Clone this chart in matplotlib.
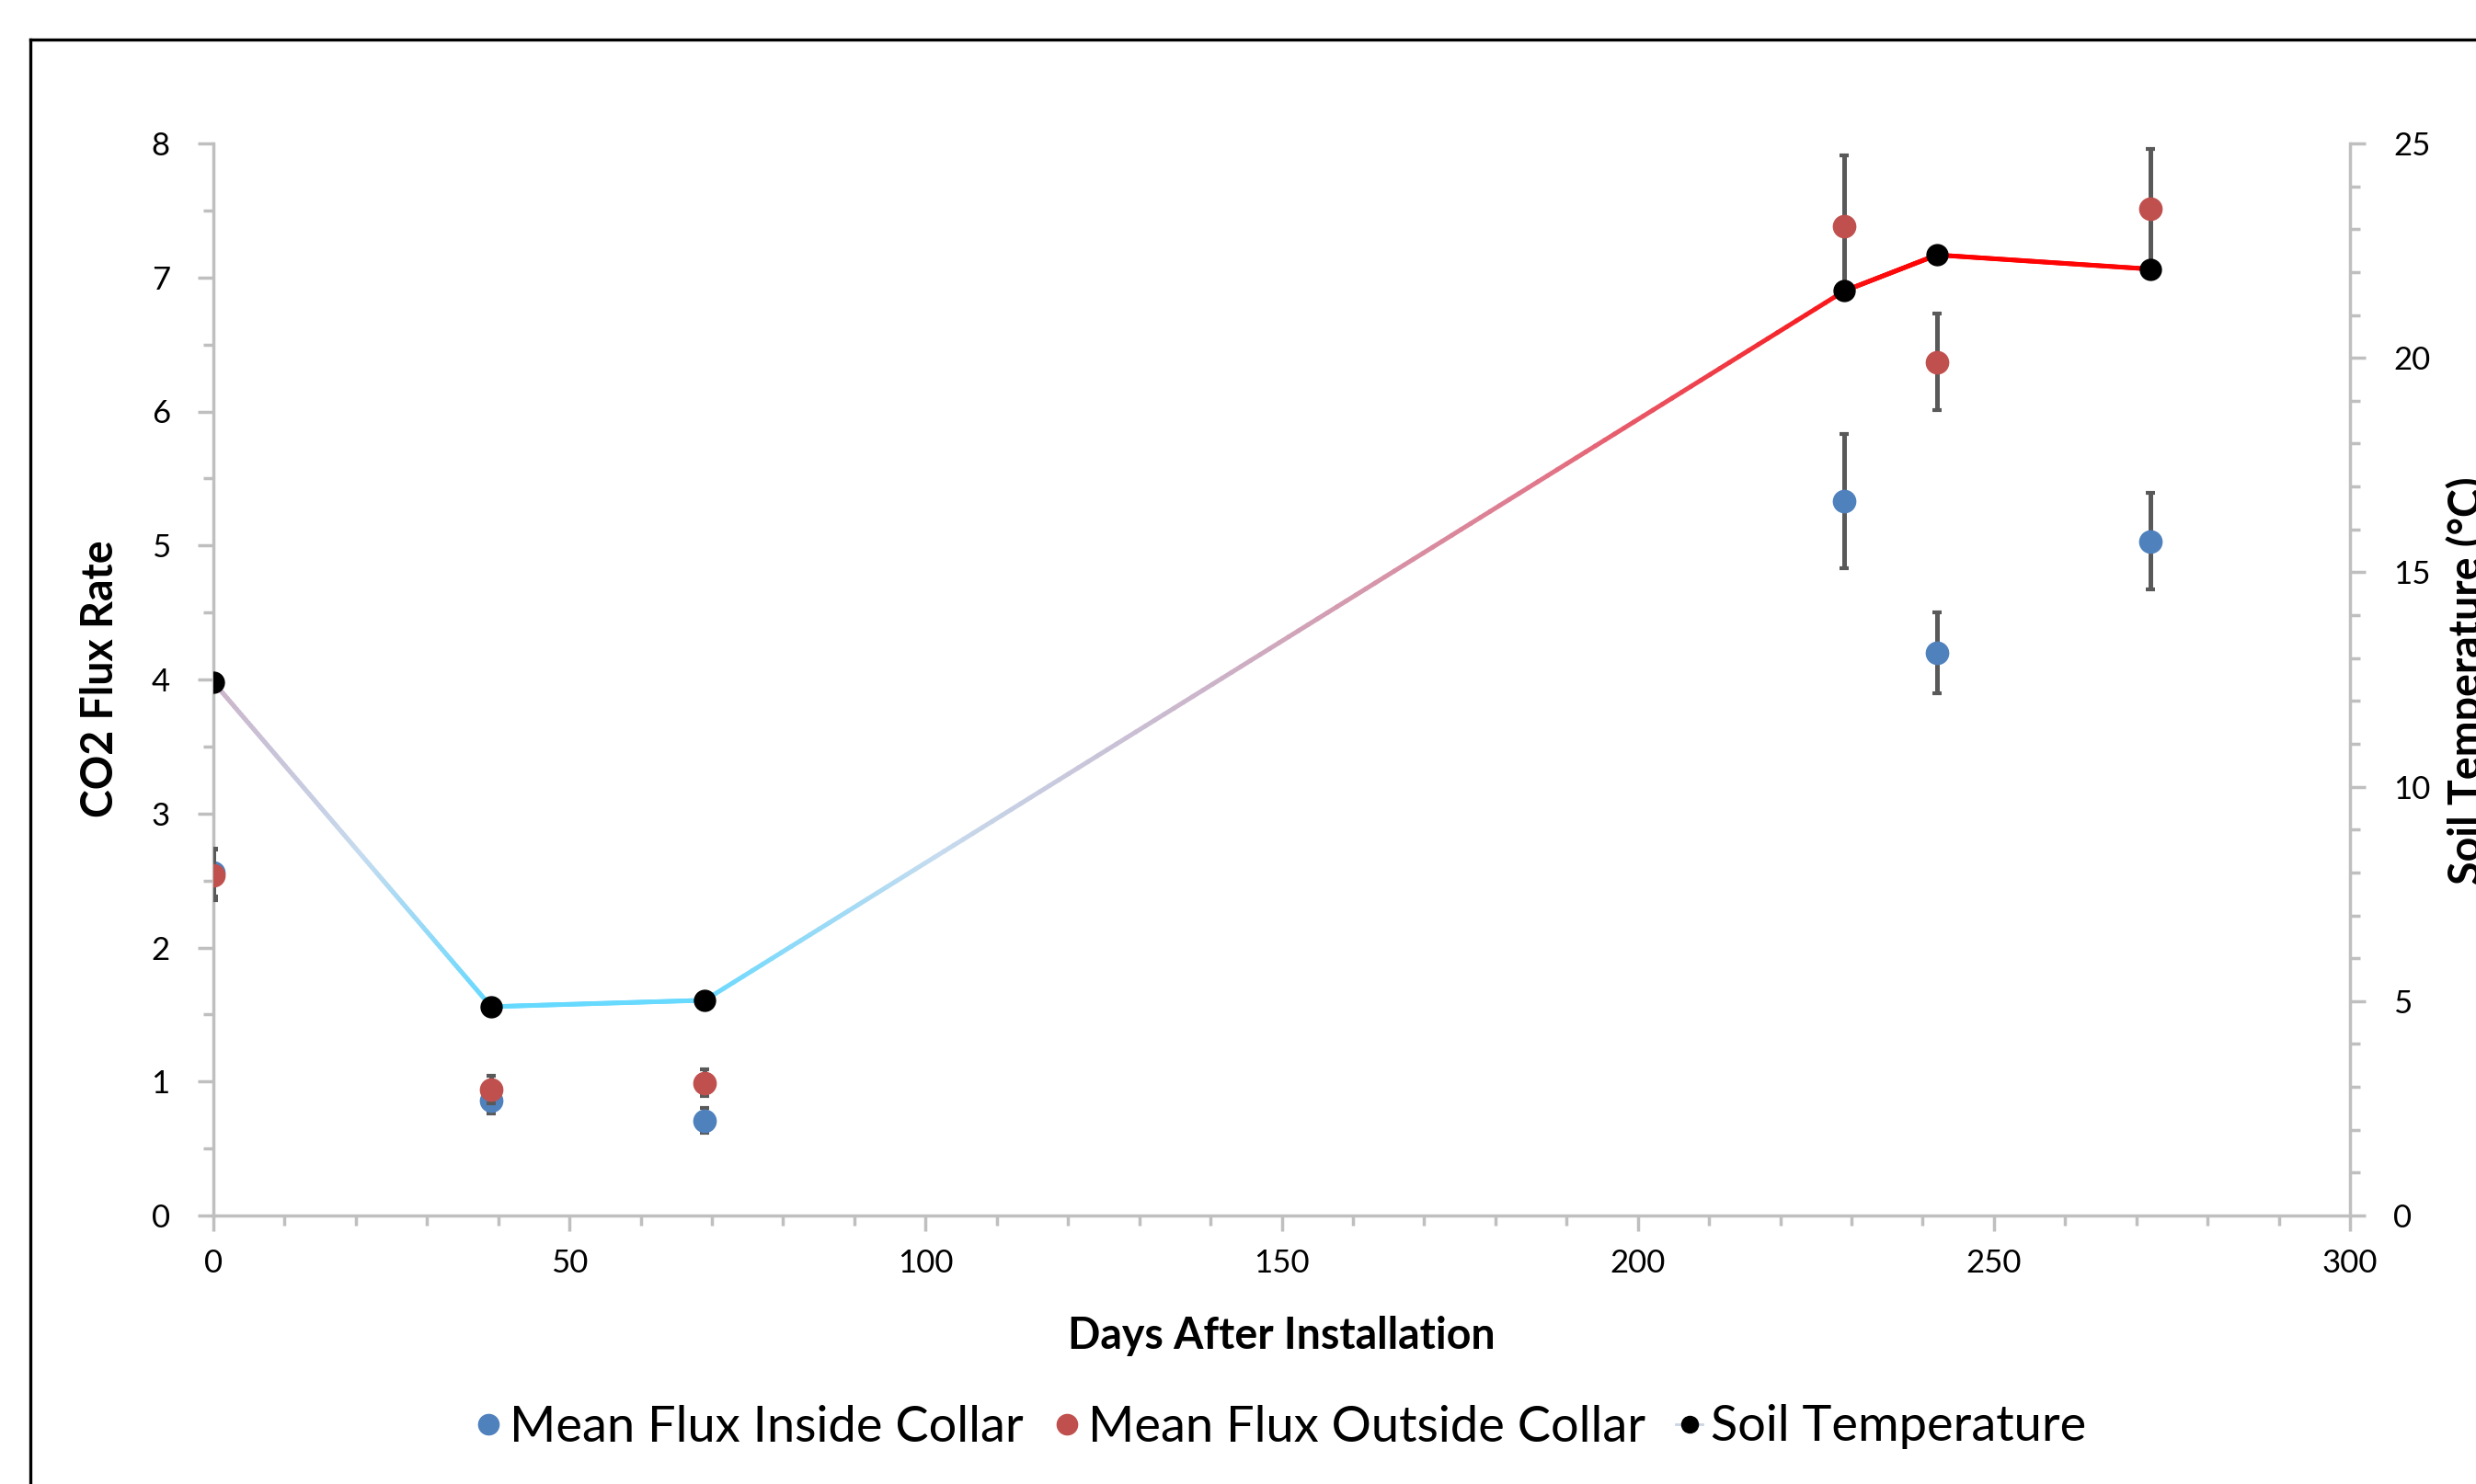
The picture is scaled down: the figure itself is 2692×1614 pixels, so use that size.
import numpy as np
import matplotlib
matplotlib.use("Agg")
import matplotlib.pyplot as plt
from matplotlib.collections import LineCollection
from matplotlib.colors import LinearSegmentedColormap
from matplotlib.lines import Line2D
from matplotlib.ticker import MultipleLocator

plt.rcParams['font.family'] = ['Lato', 'DejaVu Sans']

# ---- data ----
days = [0, 39, 69, 229, 242, 272]
flux_inside = [2.56, 0.86, 0.71, 5.33, 4.20, 5.03]
flux_inside_err = [0.18, 0.10, 0.09, 0.50, 0.30, 0.36]
flux_outside = [2.54, 0.94, 0.99, 7.38, 6.37, 7.51]
flux_outside_err = [0.19, 0.10, 0.10, 0.53, 0.36, 0.45]
soil_temp = [12.44, 4.87, 5.02, 21.56, 22.40, 22.07]

x_ticks = [0, 50, 100, 150, 200, 250, 300]
y_left_ticks = [0, 1, 2, 3, 4, 5, 6, 7, 8]
y_right_ticks = [0, 5, 10, 15, 20, 25]

W, H = 2692, 1614
fig = plt.figure(figsize=(W / 100, H / 100), dpi=100)
ax = fig.add_axes([232 / W, 1 - 1322 / H, (2555 - 232) / W, (1322 - 156) / H])
ax2 = ax.twinx()

axis_grey = '#bfbfbf'
blue = '#4f81bd'
red = '#c0504d'
err_grey = '#595959'

# error bars + markers
ax.errorbar(days, flux_inside, yerr=flux_inside_err, fmt='o', color=blue,
            markersize=17.5, ecolor=err_grey, elinewidth=3.6, capsize=3.6,
            capthick=3, zorder=3)
ax.errorbar(days, flux_outside, yerr=flux_outside_err, fmt='o', color=red,
            markersize=17.5, ecolor=err_grey, elinewidth=3.6, capsize=3.6,
            capthick=3, zorder=4)

ax.set_xlim(0, 300)
ax.set_ylim(0, 8)
ax2.set_ylim(0, 25)

# gradient line for soil temperature
cmap = LinearSegmentedColormap.from_list('soil', [
    (0.0, '#66d9ff'), (0.2, '#c6dbef'), (0.42, '#cbb5ca'),
    (0.7, '#e0788c'), (1.0, '#ff0000')])
tmin, tmax = min(soil_temp), max(soil_temp)
segs, cols = [], []
for i in range(len(days) - 1):
    xs = np.linspace(days[i], days[i + 1], 120)
    ys = np.linspace(soil_temp[i], soil_temp[i + 1], 120)
    for j in range(len(xs) - 1):
        segs.append([(xs[j], ys[j]), (xs[j + 1], ys[j + 1])])
        cols.append(cmap(((ys[j] + ys[j + 1]) / 2 - tmin) / (tmax - tmin)))
lc = LineCollection(segs, colors=cols, linewidths=3.6, capstyle='round', zorder=2)
ax2.add_collection(lc)
ax2.plot(days, soil_temp, 'o', color='black', markersize=16.5, zorder=5)

# axes styling
for a in (ax, ax2):
    for s in a.spines.values():
        s.set_visible(False)
ax.spines['left'].set_visible(True)
ax.spines['bottom'].set_visible(True)
ax2.spines['right'].set_visible(True)
for s in (ax.spines['left'], ax.spines['bottom'], ax2.spines['right']):
    s.set_color(axis_grey)
    s.set_linewidth(2.5)

ax.set_xticks(x_ticks)
ax.xaxis.set_minor_locator(MultipleLocator(10))
ax.set_yticks(y_left_ticks)
ax.yaxis.set_minor_locator(MultipleLocator(0.5))
ax2.set_yticks(y_right_ticks)
ax2.yaxis.set_minor_locator(MultipleLocator(1))

ax.tick_params(axis='both', which='major', length=12, width=2.5, color=axis_grey,
               labelsize=25, direction='out', pad=14)
ax.tick_params(axis='both', which='minor', length=8, width=2.5, color=axis_grey,
               direction='out')
ax2.tick_params(axis='y', which='major', length=12, width=2.5, color=axis_grey,
                labelsize=25, direction='out', pad=22)
ax2.tick_params(axis='y', which='minor', length=8, width=2.5, color=axis_grey,
                direction='out')
ax.tick_params(axis='y', which='major', pad=22)

fig.text(1393 / W, 1 - 1453 / H, 'Days After Installation', fontsize=33.5,
         fontweight='bold', ha='center', va='center')
fig.text(109 / W, 1 - 738 / H, 'CO2 Flux Rate', fontsize=33.5,
         fontweight='bold', ha='center', va='center', rotation=90)
fig.text(2682 / W, 1 - 740 / H, 'Soil Temperature (°C)', fontsize=33.5,
         fontweight='bold', ha='center', va='center', rotation=90)

# outer frame
fig.add_artist(Line2D([33 / W, 33 / W], [1 - 43 / H, -0.05], color='black',
                      lw=2.4, transform=fig.transFigure))
fig.add_artist(Line2D([33 / W, 1.05], [1 - 43 / H, 1 - 43 / H], color='black',
                      lw=2.4, transform=fig.transFigure))

# legend
handles = [
    Line2D([], [], ls='none', marker='o', color=blue, markersize=16),
    Line2D([], [], ls='none', marker='o', color=red, markersize=16),
    Line2D([], [], color='#cbd5e3', lw=2, marker='o', markerfacecolor='black',
           markeredgecolor='black', markersize=13),
]
fig.legend(handles, ['Mean Flux Inside Collar', 'Mean Flux Outside Collar',
                     'Soil Temperature'],
           loc='center', bbox_to_anchor=(1392 / W, 1 - 1552 / H), ncol=3,
           frameon=False, fontsize=39, handlelength=0.55, handletextpad=0.15,
           columnspacing=0.6, borderpad=0)

fig.savefig('out.png', dpi=100)
